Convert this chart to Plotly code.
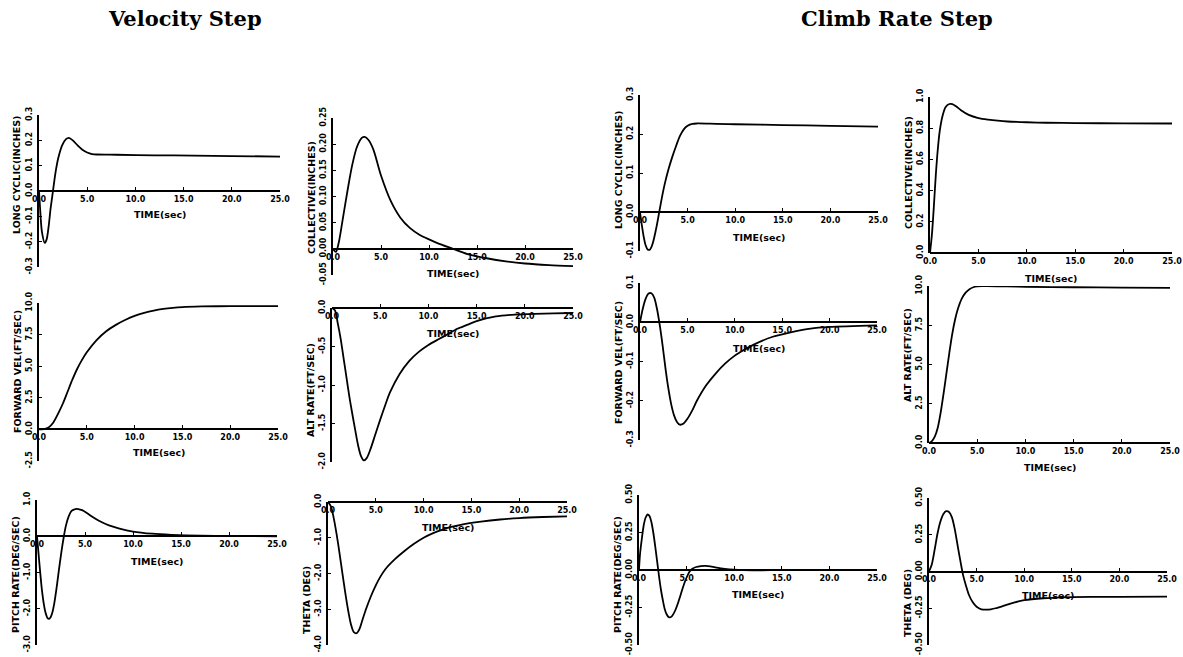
import plotly.graph_objects as go

# ---------------------------------------------------------------------------
# Time histories (time in sec)
# ---------------------------------------------------------------------------
TIME_TICKS = [0, 5, 10, 15, 20, 25]
TIME_LABELS = ["0.0", "5.0", "10.0", "15.0", "20.0", "25.0"]

# Velocity step
t_vel_cyclic = [0, 0.1, 0.3, 0.6, 0.8, 1.0, 1.2, 1.45, 1.7, 2.0, 2.4, 2.8, 3.1, 3.5, 4.0, 4.5,
                5.0, 5.5, 6.0, 8, 12, 16, 20, 25]
v_vel_cyclic = [0, -0.06, -0.16, -0.205, -0.19, -0.14, -0.07, 0.0, 0.07, 0.13, 0.18, 0.205,
                0.21, 0.2, 0.18, 0.163, 0.152, 0.146, 0.144, 0.143, 0.141, 0.14, 0.138, 0.136]

t_vel_coll = [0, 0.3, 0.6, 1.0, 1.5, 2.0, 2.5, 3.0, 3.3, 3.7, 4.2, 5.0, 6.0, 7.0, 8.0, 9.0,
              10.0, 11.0, 12.5, 14, 16, 18, 20, 22.5, 25]
v_vel_coll = [0, -0.006, 0.012, 0.055, 0.11, 0.16, 0.195, 0.212, 0.214, 0.208, 0.19, 0.14,
              0.092, 0.06, 0.04, 0.027, 0.018, 0.01, 0.0, -0.01, -0.018, -0.024, -0.028,
              -0.031, -0.033]

t_vel_fwd = [0, 0.5, 1.0, 1.5, 2.0, 2.5, 3.0, 3.5, 4.0, 4.5, 5.0, 6.0, 7.0, 8.0, 9.0, 10, 11,
             12, 13, 14, 15, 17, 20, 25]
v_vel_fwd = [0, 0.03, 0.15, 0.55, 1.25, 2.05, 3.0, 3.95, 4.8, 5.5, 6.1, 7.05, 7.75, 8.25, 8.65,
             8.98, 9.22, 9.4, 9.53, 9.62, 9.68, 9.73, 9.75, 9.75]

t_vel_alt = [0, 0.3, 0.6, 0.9, 1.2, 1.5, 1.8, 2.1, 2.4, 2.7, 3.0, 3.3, 3.6, 4.0, 4.5, 5.0, 5.5,
             6.0, 7.0, 8.0, 9.0, 10, 11, 12, 13, 14, 15, 17, 19, 21, 23, 25]
v_vel_alt = [0, -0.03, -0.2, -0.4, -0.65, -0.9, -1.15, -1.37, -1.58, -1.78, -1.92, -1.98, -1.95,
             -1.83, -1.64, -1.45, -1.27, -1.1, -0.86, -0.69, -0.57, -0.48, -0.41, -0.34, -0.27,
             -0.22, -0.17, -0.11, -0.085, -0.075, -0.07, -0.065]

t_vel_q = [0, 0.15, 0.3, 0.5, 0.7, 0.9, 1.1, 1.25, 1.4, 1.6, 1.8, 2.0, 2.2, 2.4, 2.6, 2.8, 3.0,
           3.3, 3.6, 4.0, 4.3, 4.7, 5.2, 5.8, 6.5, 7.5, 8.5, 10, 12, 14, 17, 20, 25]
v_vel_q = [0, -0.45, -0.9, -1.45, -1.85, -2.12, -2.26, -2.28, -2.24, -2.1, -1.85, -1.5, -1.1,
           -0.7, -0.33, 0.0, 0.28, 0.55, 0.7, 0.75, 0.75, 0.72, 0.64, 0.53, 0.42, 0.3, 0.22,
           0.13, 0.07, 0.04, 0.015, 0.005, 0]

t_vel_theta = [0, 0.3, 0.6, 0.9, 1.2, 1.5, 1.8, 2.1, 2.4, 2.7, 3.0, 3.3, 3.6, 4.0, 4.5, 5.0,
               5.5, 6, 7, 8, 9, 10, 11, 12, 13, 14, 16, 18, 20, 22.5, 25]
v_vel_theta = [0, -0.12, -0.45, -0.9, -1.42, -1.98, -2.53, -3.02, -3.42, -3.64, -3.67, -3.55,
               -3.3, -2.98, -2.63, -2.33, -2.08, -1.88, -1.6, -1.37, -1.17, -1.0, -0.87, -0.77,
               -0.69, -0.63, -0.55, -0.49, -0.45, -0.42, -0.4]

# Climb rate step
t_clb_cyclic = [0, 0.2, 0.4, 0.6, 0.8, 1.0, 1.2, 1.4, 1.6, 1.8, 2.0, 2.3, 2.6, 3.0, 3.4, 3.8,
                4.2, 4.6, 5.0, 5.5, 6.0, 8, 10, 15, 20, 25]
v_clb_cyclic = [0, -0.035, -0.065, -0.086, -0.096, -0.097, -0.09, -0.075, -0.054, -0.03,
                -0.003, 0.037, 0.072, 0.11, 0.142, 0.17, 0.195, 0.212, 0.221, 0.226, 0.227,
                0.226, 0.225, 0.223, 0.221, 0.219]

t_clb_coll = [0, 0.2, 0.4, 0.6, 0.8, 1.0, 1.3, 1.6, 2.0, 2.3, 2.7, 3.2, 4.0, 5.0, 6, 7, 8, 10,
              12, 15, 20, 25]
v_clb_coll = [0, 0.12, 0.3, 0.5, 0.66, 0.78, 0.88, 0.935, 0.955, 0.955, 0.94, 0.915, 0.885,
              0.865, 0.855, 0.848, 0.843, 0.838, 0.835, 0.833, 0.831, 0.83]

t_clb_fwd = [0, 0.3, 0.6, 0.9, 1.2, 1.5, 1.8, 2.1, 2.4, 2.7, 3.0, 3.3, 3.6, 3.9, 4.2, 4.6, 5.0,
             5.5, 6.0, 7.0, 8, 9, 10, 11, 12, 14, 16, 18, 20, 25]
v_clb_fwd = [0, 0.035, 0.06, 0.073, 0.074, 0.063, 0.033, -0.01, -0.062, -0.12, -0.17, -0.21,
             -0.238, -0.254, -0.261, -0.258, -0.246, -0.225, -0.2, -0.16, -0.13, -0.105, -0.085,
             -0.07, -0.057, -0.037, -0.025, -0.016, -0.012, -0.008]

t_clb_alt = [0, 0.3, 0.6, 0.9, 1.2, 1.5, 1.8, 2.1, 2.4, 2.7, 3.0, 3.4, 3.8, 4.2, 4.6, 5.0, 5.5,
             6, 8, 10, 15, 20, 25]
v_clb_alt = [0, 0.12, 0.4, 0.95, 1.9, 3.1, 4.4, 5.7, 6.9, 7.85, 8.55, 9.2, 9.58, 9.8, 9.92,
             9.97, 9.99, 9.99, 9.97, 9.95, 9.92, 9.9, 9.88]

t_clb_q = [0, 0.1, 0.3, 0.5, 0.7, 0.9, 1.1, 1.3, 1.5, 1.7, 1.9, 2.1, 2.3, 2.5, 2.7, 2.9, 3.1,
           3.3, 3.5, 3.8, 4.1, 4.4, 4.7, 5.0, 5.3, 5.6, 6.0, 6.5, 7.0, 7.5, 8.0, 9.0, 10, 12,
           15, 20, 25]
v_clb_q = [0, 0.1, 0.21, 0.3, 0.35, 0.37, 0.36, 0.32, 0.25, 0.16, 0.06, -0.04, -0.13, -0.2,
           -0.26, -0.295, -0.313, -0.315, -0.305, -0.27, -0.22, -0.16, -0.1, -0.05, -0.012,
           0.008, 0.02, 0.026, 0.027, 0.024, 0.018, 0.008, 0.002, -0.002, 0, 0, 0]

t_clb_theta = [0, 0.3, 0.6, 0.9, 1.2, 1.5, 1.8, 2.1, 2.4, 2.7, 3.0, 3.3, 3.6, 3.9, 4.2, 4.6,
               5.0, 5.5, 6.0, 6.5, 7, 8, 9, 10, 12, 14, 17, 20, 25]
v_clb_theta = [0, 0.05, 0.15, 0.26, 0.34, 0.39, 0.41, 0.405, 0.37, 0.29, 0.18, 0.07, -0.03,
               -0.1, -0.16, -0.21, -0.24, -0.257, -0.26, -0.257, -0.25, -0.23, -0.21, -0.195,
               -0.182, -0.176, -0.173, -0.172, -0.171]

# Y tick values / labels
yt_cyclic_vel = [-0.3, -0.2, -0.1, 0.0, 0.1, 0.2, 0.3]
yl_cyclic_vel = ["-0.3", "-0.2", "-0.1", "0.0", "0.1", "0.2", "0.3"]
yt_coll_vel = [-0.05, 0.0, 0.05, 0.10, 0.15, 0.20, 0.25]
yl_coll_vel = ["-0.05", "0.00", "0.05", "0.10", "0.15", "0.20", "0.25"]
yt_fwd_vel = [-2.5, 0.0, 2.5, 5.0, 7.5, 10.0]
yl_fwd_vel = ["-2.5", "0.0", "2.5", "5.0", "7.5", "10.0"]
yt_alt_vel = [-2.0, -1.5, -1.0, -0.5, 0.0]
yl_alt_vel = ["-2.0", "-1.5", "-1.0", "-0.5", "0.0"]
yt_q_vel = [-3.0, -2.0, -1.0, 0.0, 1.0]
yl_q_vel = ["-3.0", "-2.0", "-1.0", "0.0", "1.0"]
yt_theta_vel = [-4.0, -3.0, -2.0, -1.0, 0.0]
yl_theta_vel = ["-4.0", "-3.0", "-2.0", "-1.0", "0.0"]
yt_cyclic_clb = [-0.1, 0.0, 0.1, 0.2, 0.3]
yl_cyclic_clb = ["-0.1", "0.0", "0.1", "0.2", "0.3"]
yt_coll_clb = [0.0, 0.2, 0.4, 0.6, 0.8, 1.0]
yl_coll_clb = ["0.0", "0.2", "0.4", "0.6", "0.8", "1.0"]
yt_fwd_clb = [-0.3, -0.2, -0.1, 0.0, 0.1]
yl_fwd_clb = ["-0.3", "-0.2", "-0.1", "0.0", "0.1"]
yt_alt_clb = [0.0, 2.5, 5.0, 7.5, 10.0]
yl_alt_clb = ["0.0", "2.5", "5.0", "7.5", "10.0"]
yt_q_clb = [-0.5, -0.25, 0.0, 0.25, 0.5]
yl_q_clb = ["-0.50", "-0.25", "0.00", "0.25", "0.50"]
yt_theta_clb = [-0.5, -0.25, 0.0, 0.25, 0.5]
yl_theta_clb = ["-0.50", "-0.25", "0.00", "0.25", "0.50"]

# ---------------------------------------------------------------------------
# Panel geometry (pixels): axis left, axis right, top, bottom, x-axis line y,
# y-title centre y, x-title y
# ---------------------------------------------------------------------------
W, H = 1183, 657
YTITLE_GAP = 22

panels = [
    dict(t=t_vel_cyclic, v=v_vel_cyclic, yt=yt_cyclic_vel, yl=yl_cyclic_vel,
         box=(39, 280, 115, 267), xline=191, ytitle="LONG CYCLIC(INCHES)", yty=175, xty=215),
    dict(t=t_vel_coll, v=v_vel_coll, yt=yt_coll_vel, yl=yl_coll_vel,
         box=(333, 573, 118, 275), xline=249, ytitle="COLLECTIVE(INCHES)", yty=198, xty=273),
    dict(t=t_vel_fwd, v=v_vel_fwd, yt=yt_fwd_vel, yl=yl_fwd_vel,
         box=(39, 278, 303, 461), xline=429, ytitle="FORWARD VEL(FT/SEC)", yty=372, xty=452),
    dict(t=t_vel_alt, v=v_vel_alt, yt=yt_alt_vel, yl=yl_alt_vel,
         box=(332, 573, 308, 462), xline=308, ytitle="ALT RATE(FT/SEC)", yty=390, xty=333),
    dict(t=t_vel_q, v=v_vel_q, yt=yt_q_vel, yl=yl_q_vel,
         box=(37, 277, 500, 645), xline=536, ytitle="PITCH RATE(DEG/SEC)", yty=575, xty=561),
    dict(t=t_vel_theta, v=v_vel_theta, yt=yt_theta_vel, yl=yl_theta_vel,
         box=(328, 567, 502, 645), xline=502, ytitle="THETA (DEG)", yty=600, xty=527),
    dict(t=t_clb_cyclic, v=v_clb_cyclic, yt=yt_cyclic_clb, yl=yl_cyclic_clb,
         box=(640, 878, 95, 251), xline=212, ytitle="LONG CYCLIC(INCHES)", yty=170, xty=237),
    dict(t=t_clb_coll, v=v_clb_coll, yt=yt_coll_clb, yl=yl_coll_clb,
         box=(930, 1172, 97, 253), xline=253, ytitle="COLLECTIVE(INCHES)", yty=173, xty=278),
    dict(t=t_clb_fwd, v=v_clb_fwd, yt=yt_fwd_clb, yl=yl_fwd_clb,
         box=(640, 877, 283, 440), xline=322, ytitle="FORWARD VEL(FT/SEC)", yty=363, xty=348),
    dict(t=t_clb_alt, v=v_clb_alt, yt=yt_alt_clb, yl=yl_alt_clb,
         box=(929, 1170, 286, 443), xline=443, ytitle="ALT RATE(FT/SEC)", yty=355, xty=467),
    dict(t=t_clb_q, v=v_clb_q, yt=yt_q_clb, yl=yl_q_clb,
         box=(639, 877, 495, 645), xline=570, ytitle="PITCH RATE(DEG/SEC)", yty=575, xty=594),
    dict(t=t_clb_theta, v=v_clb_theta, yt=yt_theta_clb, yl=yl_theta_clb,
         box=(929, 1167, 498, 645), xline=571.5, ytitle="THETA (DEG)", yty=603, xty=595),
]

TICK_FONT = dict(family="DejaVu Sans", size=8, color="black", weight="bold")
TITLE_FONT = dict(family="DejaVu Sans", size=9.5, color="black", weight="bold")

fig = go.Figure()
annotations = []
layout = {}

for i, p in enumerate(panels, start=1):
    sfx = "" if i == 1 else str(i)
    xname, yname = "xaxis" + sfx, "yaxis" + sfx
    xref, yref = "x" + sfx, "y" + sfx
    x0, x1, ytop, ybot = p["box"]

    fig.add_trace(go.Scatter(
        x=p["t"], y=p["v"], mode="lines",
        line=dict(color="black", width=1.8, shape="spline", smoothing=0.8),
        xaxis=xref, yaxis=yref, showlegend=False, hoverinfo="skip",
    ))

    layout[xname] = dict(
        domain=[x0 / W, x1 / W], range=[0, 25], anchor="free",
        position=1 - p["xline"] / H,
        tickvals=TIME_TICKS, ticktext=TIME_LABELS, tickfont=TICK_FONT,
        showline=True, linecolor="black", linewidth=2,
        ticks="inside", ticklen=3, tickcolor="black", ticklabeloverflow="allow",
        showgrid=False, zeroline=False, automargin=False, fixedrange=True,
    )
    layout[yname] = dict(
        domain=[1 - ybot / H, 1 - ytop / H], range=[min(p["yt"]), max(p["yt"])],
        anchor=xref, tickvals=p["yt"], ticktext=p["yl"], tickangle=-90,
        tickfont=TICK_FONT, showline=True, linecolor="black", linewidth=2,
        ticks="inside", ticklen=3, tickcolor="black", ticklabelstandoff=2,
        ticklabeloverflow="allow",
        showgrid=False, zeroline=False, automargin=False, fixedrange=True,
    )

    annotations.append(dict(
        text=p["ytitle"], x=(x0 - YTITLE_GAP) / W, y=1 - p["yty"] / H,
        xref="paper", yref="paper", textangle=-90, showarrow=False,
        xanchor="center", yanchor="middle", font=TITLE_FONT,
    ))
    annotations.append(dict(
        text="TIME(sec)", x=(x0 + x1) / 2 / W, y=1 - p["xty"] / H,
        xref="paper", yref="paper", showarrow=False,
        xanchor="center", yanchor="middle", font=TITLE_FONT,
    ))

# Group headings
HEAD_FONT = dict(family="DejaVu Serif", size=21, color="black", weight="bold")
annotations.append(dict(text="Velocity Step", x=185 / W, y=1 - 19 / H, xref="paper",
                        yref="paper", showarrow=False, font=HEAD_FONT,
                        xanchor="center", yanchor="middle"))
annotations.append(dict(text="Climb Rate Step", x=897 / W, y=1 - 19 / H, xref="paper",
                        yref="paper", showarrow=False, font=HEAD_FONT,
                        xanchor="center", yanchor="middle"))

fig.update_layout(
    width=W, height=H, margin=dict(l=0, r=0, t=0, b=0),
    paper_bgcolor="white", plot_bgcolor="white",
    annotations=annotations, showlegend=False, **layout,
)

fig.write_html("out.html", config={"displayModeBar": False})
